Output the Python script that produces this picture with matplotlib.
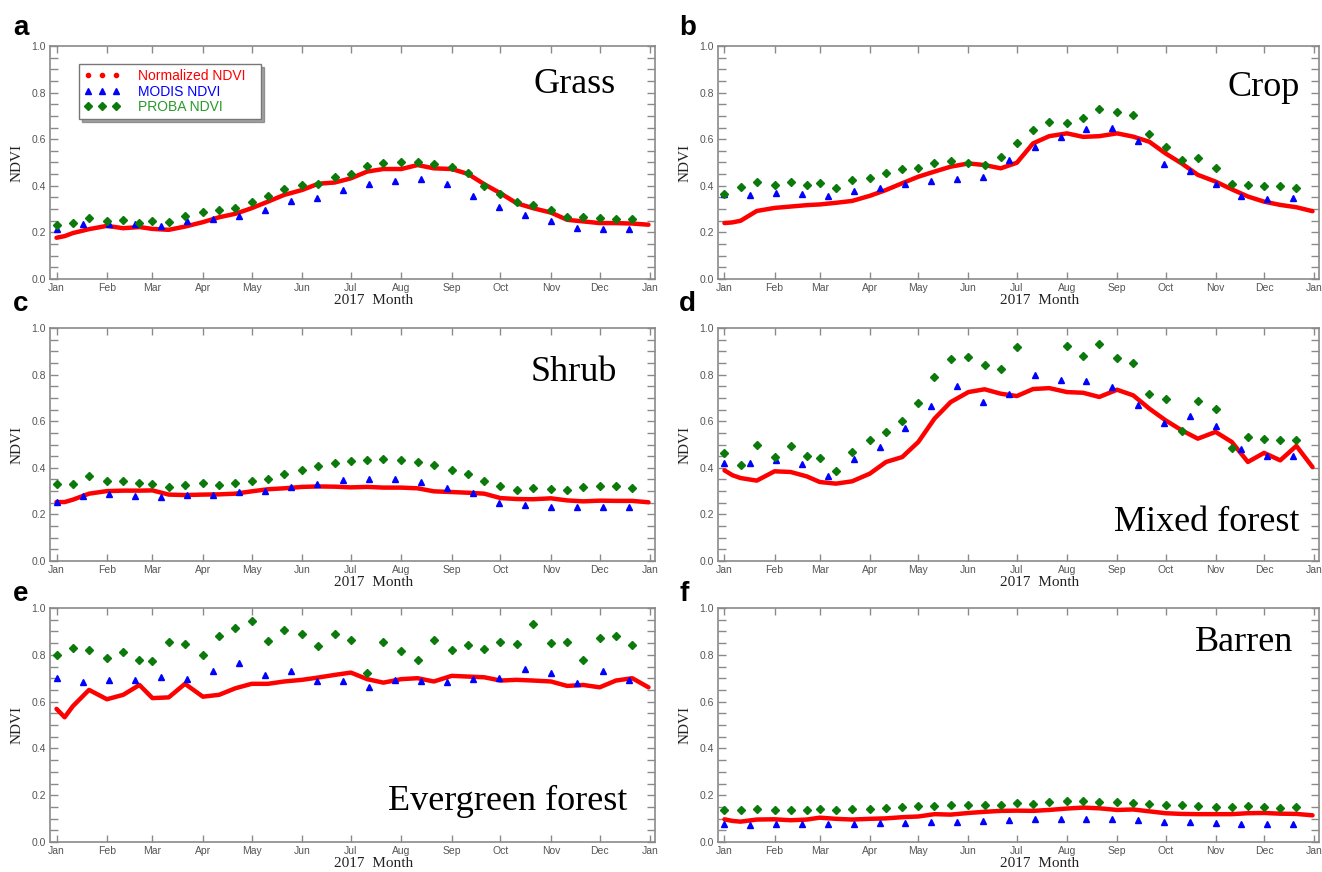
import numpy as np
import matplotlib
matplotlib.use("Agg")
import matplotlib.pyplot as plt
import matplotlib.dates as mdates
from matplotlib.ticker import MultipleLocator
from matplotlib.lines import Line2D

# day-of-year sampling (2017)
red_days = [1, 6, 11, 21, 32, 42, 52, 60, 70, 80, 91, 101, 111, 121, 131, 141, 152, 162, 172,
            182, 192, 202, 213, 223, 233, 244, 254, 264, 274, 284, 294, 305, 315, 325, 335, 345, 355, 365]
modis_days = [1, 17, 33, 49, 65, 81, 97, 113, 129, 145, 161, 177, 193, 209, 225, 241, 257, 273,
              289, 305, 321, 337, 353]
proba_days = [1, 11, 21, 32, 42, 52, 60, 70, 80, 91, 101, 111, 121, 131, 141, 152, 162, 172,
              182, 192, 202, 213, 223, 233, 244, 254, 264, 274, 284, 294, 305, 315, 325, 335, 345, 355]

# a  Grass
grass_red = [0.177, 0.184, 0.197, 0.214, 0.228, 0.218, 0.223, 0.215, 0.211, 0.225, 0.244, 0.265, 0.28,
             0.304, 0.332, 0.361, 0.382, 0.409, 0.414, 0.432, 0.461, 0.472, 0.472, 0.489, 0.475, 0.472,
             0.451, 0.407, 0.368, 0.325, 0.304, 0.285, 0.254, 0.247, 0.24, 0.24, 0.238, 0.233]
grass_modis = [0.214, 0.235, 0.237, 0.237, 0.228, 0.25, 0.257, 0.271, 0.298, 0.335, 0.347, 0.382, 0.409,
               0.421, 0.429, 0.409, 0.358, 0.31, 0.275, 0.247, 0.22, 0.215, 0.214]
grass_proba = [0.231, 0.241, 0.261, 0.25, 0.255, 0.241, 0.248, 0.244, 0.271, 0.287, 0.295, 0.304, 0.33,
               0.355, 0.387, 0.402, 0.409, 0.439, 0.451, 0.485, 0.496, 0.501, 0.501, 0.492, 0.481, 0.454,
               0.401, 0.364, 0.332, 0.318, 0.295, 0.268, 0.265, 0.262, 0.258, 0.257]

# b  Crop
crop_red = [0.24, 0.243, 0.25, 0.292, 0.305, 0.311, 0.317, 0.32, 0.327, 0.335, 0.357, 0.382, 0.411, 0.439,
            0.461, 0.482, 0.496, 0.489, 0.475, 0.499, 0.582, 0.613, 0.625, 0.61, 0.613, 0.625, 0.611, 0.589,
            0.539, 0.496, 0.447, 0.418, 0.385, 0.354, 0.332, 0.318, 0.308, 0.291]
crop_modis = [0.364, 0.359, 0.368, 0.364, 0.358, 0.379, 0.392, 0.408, 0.422, 0.431, 0.438, 0.509, 0.566,
              0.609, 0.643, 0.648, 0.593, 0.495, 0.464, 0.409, 0.355, 0.345, 0.347]
crop_proba = [0.364, 0.395, 0.418, 0.402, 0.417, 0.404, 0.414, 0.389, 0.427, 0.432, 0.455, 0.471, 0.475,
              0.498, 0.508, 0.499, 0.489, 0.525, 0.582, 0.641, 0.675, 0.669, 0.693, 0.728, 0.718, 0.705,
              0.621, 0.565, 0.512, 0.518, 0.475, 0.407, 0.404, 0.401, 0.399, 0.392]

# c  Shrub
shrub_red = [0.253, 0.253, 0.263, 0.289, 0.3, 0.302, 0.302, 0.303, 0.285, 0.283, 0.285, 0.286, 0.289, 0.299,
             0.308, 0.312, 0.318, 0.32, 0.319, 0.316, 0.318, 0.315, 0.315, 0.312, 0.299, 0.296, 0.293, 0.289,
             0.27, 0.266, 0.265, 0.269, 0.26, 0.256, 0.259, 0.258, 0.258, 0.252]
shrub_modis = [0.255, 0.279, 0.286, 0.279, 0.275, 0.285, 0.282, 0.296, 0.3, 0.316, 0.332, 0.349, 0.353,
               0.35, 0.34, 0.315, 0.292, 0.249, 0.242, 0.233, 0.23, 0.232, 0.23]
shrub_proba = [0.33, 0.33, 0.363, 0.343, 0.345, 0.336, 0.33, 0.319, 0.326, 0.335, 0.328, 0.333, 0.345,
               0.352, 0.372, 0.389, 0.408, 0.422, 0.429, 0.432, 0.439, 0.435, 0.425, 0.411, 0.389, 0.375,
               0.345, 0.322, 0.305, 0.315, 0.31, 0.305, 0.316, 0.322, 0.322, 0.313]

# d  Mixed forest
mixed_red = [0.389, 0.368, 0.356, 0.345, 0.385, 0.382, 0.363, 0.339, 0.332, 0.342, 0.375, 0.425, 0.446,
             0.511, 0.611, 0.682, 0.725, 0.737, 0.718, 0.708, 0.738, 0.742, 0.725, 0.722, 0.704, 0.735,
             0.711, 0.654, 0.604, 0.561, 0.525, 0.554, 0.511, 0.425, 0.464, 0.432, 0.494, 0.403]
mixed_modis = [0.422, 0.421, 0.432, 0.415, 0.365, 0.436, 0.491, 0.569, 0.665, 0.753, 0.681, 0.715, 0.798,
               0.775, 0.773, 0.748, 0.671, 0.592, 0.624, 0.578, 0.479, 0.452, 0.451]
mixed_proba = [0.465, 0.412, 0.496, 0.445, 0.495, 0.449, 0.441, 0.388, 0.466, 0.518, 0.555, 0.599, 0.678,
               0.791, 0.868, 0.876, 0.843, 0.825, 0.918, np.nan, np.nan, 0.924, 0.878, 0.931, 0.873, 0.851,
               0.715, 0.694, 0.557, 0.688, 0.652, 0.484, 0.531, 0.522, 0.518, 0.518]

# e  Evergreen forest
ever_red = [0.569, 0.533, 0.58, 0.65, 0.61, 0.629, 0.671, 0.615, 0.618, 0.676, 0.621, 0.629, 0.657, 0.676,
            0.676, 0.686, 0.693, 0.703, 0.714, 0.724, 0.696, 0.681, 0.696, 0.7, 0.686, 0.71, 0.707, 0.704,
            0.69, 0.693, 0.69, 0.686, 0.667, 0.671, 0.661, 0.69, 0.7, 0.661]
ever_modis = [0.699, 0.683, 0.691, 0.694, 0.703, 0.696, 0.731, 0.763, 0.714, 0.731, 0.69, 0.687, 0.663,
              0.693, 0.69, 0.684, 0.697, 0.699, 0.739, 0.721, 0.681, 0.73, 0.694]
ever_proba = [0.799, 0.831, 0.82, 0.787, 0.81, 0.777, 0.773, 0.853, 0.846, 0.8, 0.879, 0.916, 0.946, 0.859,
              0.904, 0.891, 0.839, 0.89, 0.864, 0.724, 0.853, 0.816, 0.777, 0.864, 0.819, 0.841, 0.823,
              0.856, 0.846, 0.931, 0.85, 0.854, 0.779, 0.873, 0.88, 0.84]

# f  Barren
barren_red = [0.097, 0.09, 0.087, 0.096, 0.097, 0.093, 0.096, 0.104, 0.099, 0.096, 0.099, 0.101, 0.106,
              0.109, 0.119, 0.117, 0.124, 0.129, 0.133, 0.134, 0.133, 0.137, 0.143, 0.147, 0.144, 0.137,
              0.139, 0.131, 0.123, 0.12, 0.119, 0.119, 0.119, 0.123, 0.124, 0.121, 0.12, 0.114]
barren_modis = [0.079, 0.074, 0.077, 0.077, 0.076, 0.079, 0.08, 0.083, 0.084, 0.087, 0.091, 0.094, 0.097,
                0.1, 0.1, 0.099, 0.093, 0.087, 0.084, 0.081, 0.079, 0.079, 0.077]
barren_proba = [0.137, 0.136, 0.139, 0.137, 0.137, 0.137, 0.141, 0.137, 0.14, 0.141, 0.146, 0.149, 0.153,
                0.154, 0.156, 0.159, 0.159, 0.16, 0.166, 0.163, 0.169, 0.174, 0.174, 0.171, 0.169, 0.166,
                0.161, 0.157, 0.156, 0.154, 0.15, 0.151, 0.153, 0.151, 0.147, 0.149]

titles = ["Grass", "Crop", "Shrub", "Mixed forest", "Evergreen forest", "Barren"]
letters = ["a", "b", "c", "d", "e", "f"]
red_all = [grass_red, crop_red, shrub_red, mixed_red, ever_red, barren_red]
modis_all = [grass_modis, crop_modis, shrub_modis, mixed_modis, ever_modis, barren_modis]
proba_all = [grass_proba, crop_proba, shrub_proba, mixed_proba, ever_proba, barren_proba]


def to_dates(days):
    return np.datetime64("2017-01-01") + np.array(days) - 1


SERIF = ["Liberation Serif", "DejaVu Serif"]
NARROW = ["Liberation Sans Narrow", "Liberation Sans", "DejaVu Sans"]
GREEN = "#0b7a0b"

W, H = 1322, 872
fig = plt.figure(figsize=(W / 100, H / 100), dpi=100)

# axes boxes in pixels: left, top, width, height
boxes = [(50, 46, 605, 233), (718, 46, 601, 233),
         (50, 328, 605, 233), (718, 328, 601, 233),
         (50, 608, 605, 234), (718, 608, 601, 234)]
# title anchor (axes fraction, right aligned)
title_pos = [(0.935, 0.833), (0.968, 0.824), (0.937, 0.811),
             (0.968, 0.167), (0.954, 0.172), (0.957, 0.854)]
letter_pos = [(13, 35), (679, 35), (13, 311), (679, 311), (13, 601), (679, 601)]

for i in range(6):
    l, t, w, h = boxes[i]
    ax = fig.add_axes([l / W, 1 - (t + h) / H, w / W, h / H])

    ax.plot(to_dates(red_days), red_all[i], color="red", lw=3.2, solid_capstyle="round", zorder=2)
    ax.plot(to_dates(modis_days), modis_all[i], ls="none", marker="^", ms=5, color="blue", zorder=3)
    ax.plot(to_dates(proba_days), proba_all[i], ls="none", marker="D", ms=3.8, color=GREEN, zorder=3)

    ax.set_ylim(0, 1)
    ax.set_xlim(np.datetime64("2016-12-28"), np.datetime64("2018-01-04"))
    ax.xaxis.set_major_locator(mdates.MonthLocator())
    ax.xaxis.set_major_formatter(mdates.DateFormatter("%b"))
    ax.yaxis.set_major_locator(MultipleLocator(0.2))
    ax.yaxis.set_minor_locator(MultipleLocator(0.05))
    ax.yaxis.set_major_formatter(matplotlib.ticker.FormatStrFormatter("%.1f"))

    ax.tick_params(which="both", direction="in", top=True, right=True, color="#8a8a8a", width=1)
    ax.tick_params(axis="y", which="both", length=6, pad=3)
    ax.tick_params(axis="x", which="major", length=5, pad=3)
    for lab in ax.get_xticklabels() + ax.get_yticklabels():
        lab.set_family(NARROW)
        lab.set_fontsize(7.5)
        lab.set_color("#555555")
    for s in ax.spines.values():
        s.set_color("#8a8a8a")
        s.set_linewidth(1.2)

    ax.set_ylabel("NDVI", family=SERIF, fontsize=11, color="#222222")
    ax.yaxis.set_label_coords(-26 / w, 0.5)
    ax.set_xlabel("2017  Month", family=SERIF, fontsize=11, color="#222222")
    ax.xaxis.set_label_coords(0.535, -15 / h)

    ax.text(title_pos[i][0], title_pos[i][1], titles[i], transform=ax.transAxes,
            ha="right", va="center", family=SERIF, fontsize=26, color="black")

    fig.text(letter_pos[i][0] / W, 1 - letter_pos[i][1] / H, letters[i], ha="left", va="baseline",
             family=["Liberation Sans", "DejaVu Sans"], fontweight="bold", fontsize=20)

    if i == 0:
        handles = [Line2D([], [], ls="none", marker="o", ms=3, color="red"),
                   Line2D([], [], ls="none", marker="^", ms=5, color="blue"),
                   Line2D([], [], ls="none", marker="D", ms=3.8, color=GREEN)]
        leg = ax.legend(handles, ["Normalized NDVI", "MODIS NDVI", "PROBA NDVI"],
                        loc="upper left", bbox_to_anchor=(29 / w, 1 - 18 / h, 182 / w, 0.0),
                        mode="expand", borderaxespad=0,
                        numpoints=3, handlelength=2.6, handletextpad=1.3, labelspacing=0.12,
                        borderpad=0.35, fancybox=False, shadow=True, framealpha=1,
                        prop={"family": ["Liberation Sans", "DejaVu Sans"], "size": 10})
        leg.get_frame().set_edgecolor("#777777")
        leg.get_frame().set_linewidth(1)
        for txt, c in zip(leg.get_texts(), ["red", "blue", "#2a9a2a"]):
            txt.set_color(c)

fig.savefig("out.png", dpi=100)
